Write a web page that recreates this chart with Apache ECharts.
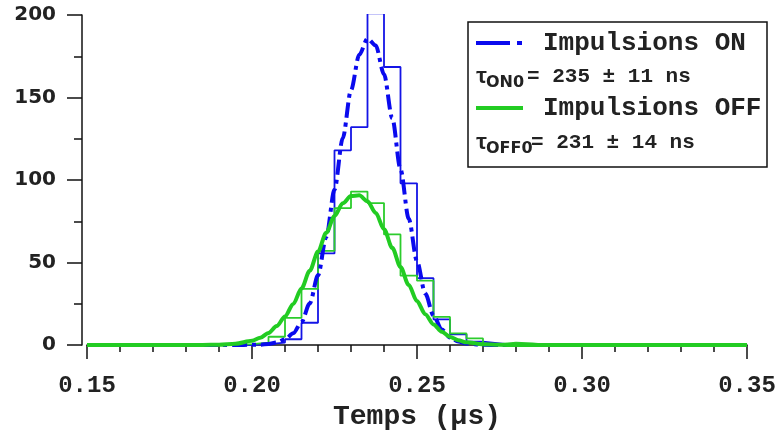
<!DOCTYPE html>
<html><head><meta charset="utf-8">
<script src="https://cdn.jsdelivr.net/npm/echarts@6/dist/echarts.min.js"></script>
<style>html,body{margin:0;padding:0;background:#fff}#c{width:780px;height:441px}</style>
</head><body><div id="c"></div>
<script>
// histogram bin edges (µs)
const binEdges = [0.150,0.155,0.160,0.165,0.170,0.175,0.180,0.185,0.190,0.195,
  0.200,0.205,0.210,0.215,0.220,0.225,0.230,0.235,0.240,0.245,
  0.250,0.255,0.260,0.265,0.270,0.275,0.280,0.285,0.290,0.295,
  0.300,0.305,0.310,0.315,0.320,0.325,0.330,0.335,0.340,0.345,0.350];
// counts per bin, "Impulsions ON"
const onCounts = [0,0,0,0,0,0,0,0,0,0,
  0.5,1.5,3.5,13.5,55.5,118,132,201,168.5,98,
  40.5,15.5,6.5,2,1,0,0,0,0,0,
  0,0,0,0,0,0,0,0,0,0];
// counts per bin, "Impulsions OFF"
const offCounts = [0,0,0,0,0,0,0,0,0,0.5,
  1.5,5,16.5,34,57,83,93,86,67,42,
  39,17,7,4,0.5,1.5,1,0,0,0,
  0,0,0,0,0,0,0,0,0,0];
// fitted curves
const fitX = [0.150,0.175,0.180,0.185,0.190,0.195,0.200,0.2025,0.205,0.2075,0.210,0.2125,0.215,0.2175,
  0.220,0.2225,0.225,0.2275,0.230,0.2325,0.235,0.2375,0.240,0.2425,0.245,0.2475,0.250,0.2525,
  0.255,0.2575,0.260,0.2625,0.265,0.270,0.275,0.280,0.300,0.350];
const onFit = [0,0,0,0,0,0,0.1,0.2,0.6,1.5,3.4,7.1,13.9,25.2,
  42.2,65.5,94.1,125.3,154.4,175.9,185.7,181.5,164.1,137.5,106.5,76.5,50.8,31.2,
  17.8,9.4,4.6,2.1,0.9,0.1,0,0,0,0];
const offFit = [0,0,0,0.05,0.2,0.8,2.6,4.4,7.3,11.5,17.3,24.9,34.3,45.0,
  56.6,68.0,78.2,85.9,90.3,90.7,87.1,80.0,70.2,58.9,47.3,36.3,26.6,18.7,
  12.5,8.0,4.9,2.9,1.6,0.45,0.1,0,0,0];
const xTitle = 'Temps (µs)';
const legendNames = ['Impulsions ON', 'Impulsions OFF'];
const tauOnText = ['τ', 'ON0', '= 235 ± 11 ns'];
const tauOffText = ['τ', 'OFF0', '= 231 ± 14 ns'];

const BLUE = '#1414e6', BLUE_FIT = '#0a0aee', GREEN = '#2ccc2c', GREEN_FIT = '#22cc22';

function stepData(counts) {
  return binEdges.map((e, i) => [e, i < counts.length ? counts[i] : counts[counts.length - 1]]);
}
function fitData(ys) { return fitX.map((x, i) => [x, ys[i]]); }

const chart = echarts.init(document.getElementById('c'), null, {renderer: 'canvas'});
const mono = 'Liberation Mono';
chart.setOption({
  animation: false,
  backgroundColor: '#fff',
  grid: {left: 87, right: 33, top: 15, bottom: 96, containLabel: false, outerBoundsMode: 'none'},
  xAxis: {
    type: 'value', min: 0.15, max: 0.35, interval: 0.05, offset: 5,
    axisLine: {lineStyle: {color: '#111', width: 1.5}},
    axisTick: {length: 14, lineStyle: {color: '#111', width: 1.5}},
    minorTick: {show: true, splitNumber: 5, length: 7, lineStyle: {color: '#111', width: 1.5}},
    splitLine: {show: false}, minorSplitLine: {show: false},
    axisLabel: {formatter: v => v.toFixed(2), fontFamily: mono, fontWeight: 'bold', fontSize: 24, color: '#222', margin: 24},
    name: xTitle, nameLocation: 'middle', nameGap: 41,
    nameTextStyle: {fontFamily: mono, fontWeight: 'bold', fontSize: 28, color: '#222'}
  },
  yAxis: {
    type: 'value', min: 0, max: 200, interval: 50, offset: 5,
    axisLine: {show: true, lineStyle: {color: '#111', width: 1.5}},
    axisTick: {show: true, length: 15, lineStyle: {color: '#111', width: 1.5}},
    minorTick: {show: true, splitNumber: 2, length: 8, lineStyle: {color: '#111', width: 1.5}},
    splitLine: {show: false}, minorSplitLine: {show: false},
    axisLabel: {fontFamily: 'DejaVu Sans', fontWeight: 'bold', fontSize: 20, color: '#222', margin: 26}
  },
  series: [
    {type: 'line', name: 'hist ON', step: 'end', data: stepData(onCounts), showSymbol: false, symbol: 'none',
      lineStyle: {color: BLUE, width: 1.8}, z: 2},
    {type: 'line', name: 'hist OFF', step: 'end', data: stepData(offCounts), showSymbol: false, symbol: 'none',
      lineStyle: {color: GREEN, width: 1.8}, z: 3},
    {type: 'line', name: legendNames[0], data: fitData(onFit), smooth: 0.3, smoothMonotone: 'x', showSymbol: false, symbol: 'none',
      lineStyle: {color: BLUE_FIT, width: 4, type: [15, 5, 4, 5]}, z: 4},
    {type: 'line', name: legendNames[1], data: fitData(offFit), smooth: 0.3, smoothMonotone: 'x', showSymbol: false, symbol: 'none',
      lineStyle: {color: GREEN_FIT, width: 4}, z: 5}
  ],
  graphic: [
    {type: 'rect', shape: {x: 468, y: 22, width: 299, height: 145}, style: {fill: '#fff', stroke: '#111', lineWidth: 1.5}, z: 10},
    {type: 'line', shape: {x1: 476, y1: 43, x2: 510, y2: 43}, style: {stroke: BLUE_FIT, lineWidth: 4}, z: 11},
    {type: 'line', shape: {x1: 517, y1: 43, x2: 522, y2: 43}, style: {stroke: BLUE_FIT, lineWidth: 4}, z: 11},
    {type: 'text', x: 543, y: 43, style: {text: legendNames[0], font: 'bold 26px "Liberation Mono"', fill: '#222', verticalAlign: 'middle', align: 'left'}, z: 11},
    {type: 'text', x: 475, y: 77, style: {text: tauOnText[0], font: 'bold 22px "Liberation Mono"', fill: '#222', verticalAlign: 'middle', align: 'left'}, z: 11},
    {type: 'text', x: 486, y: 83, style: {text: tauOnText[1], font: 'bold 16px "DejaVu Sans"', fill: '#222', verticalAlign: 'middle', align: 'left'}, z: 11},
    {type: 'text', x: 527, y: 77, style: {text: tauOnText[2], font: 'bold 21px "Liberation Mono"', fill: '#222', verticalAlign: 'middle', align: 'left'}, z: 11},
    {type: 'line', shape: {x1: 476, y1: 108, x2: 523, y2: 108}, style: {stroke: GREEN_FIT, lineWidth: 4}, z: 11},
    {type: 'text', x: 543, y: 108, style: {text: legendNames[1], font: 'bold 26px "Liberation Mono"', fill: '#222', verticalAlign: 'middle', align: 'left'}, z: 11},
    {type: 'text', x: 475, y: 143, style: {text: tauOffText[0], font: 'bold 22px "Liberation Mono"', fill: '#222', verticalAlign: 'middle', align: 'left'}, z: 11},
    {type: 'text', x: 486, y: 149, style: {text: tauOffText[1], font: 'bold 16px "DejaVu Sans"', fill: '#222', verticalAlign: 'middle', align: 'left'}, z: 11},
    {type: 'text', x: 531, y: 143, style: {text: tauOffText[2], font: 'bold 21px "Liberation Mono"', fill: '#222', verticalAlign: 'middle', align: 'left'}, z: 11}
  ]
});
</script>
</body></html>
